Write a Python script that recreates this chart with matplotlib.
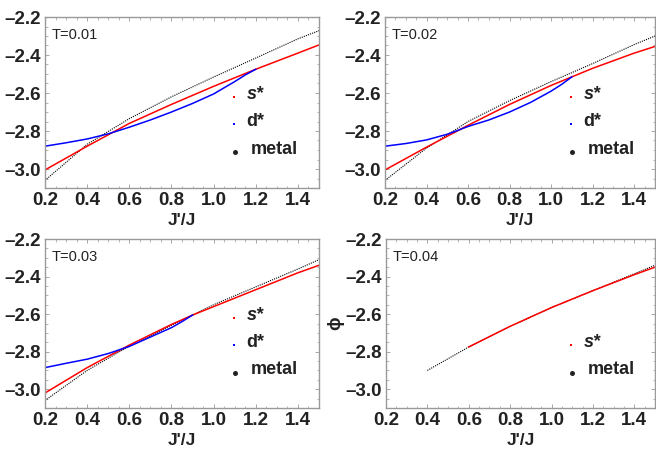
import numpy as np
import matplotlib
matplotlib.use('Agg')
import matplotlib.pyplot as plt
from matplotlib.ticker import MultipleLocator

plt.rcParams['font.family'] = ['Liberation Sans', 'DejaVu Sans']

# T = 0.01
x1_m = [0.2, 0.4, 0.6, 0.8, 1.0, 1.2, 1.4, 1.5]
y1_m = [-3.06, -2.87, -2.735, -2.62, -2.516, -2.416, -2.315, -2.272]
x1_s = [0.2, 0.4, 0.6, 0.8, 1.0, 1.2, 1.4, 1.5]
y1_s = [-3.005, -2.88, -2.76, -2.66, -2.565, -2.475, -2.39, -2.347]
x1_d = [0.2, 0.3, 0.4, 0.5, 0.6, 0.7, 0.8, 0.9, 1.0, 1.1, 1.15, 1.2]
y1_d = [-2.88, -2.862, -2.842, -2.815, -2.78, -2.742, -2.70, -2.655, -2.605, -2.54, -2.505, -2.475]

# T = 0.02
x2_m = [0.2, 0.4, 0.6, 0.8, 1.0, 1.2, 1.4, 1.5]
y2_m = [-3.06, -2.89, -2.75, -2.64, -2.54, -2.445, -2.345, -2.30]
x2_s = [0.2, 0.4, 0.6, 0.8, 1.0, 1.1, 1.2, 1.4, 1.5]
y2_s = [-3.005, -2.885, -2.77, -2.66, -2.56, -2.515, -2.47, -2.39, -2.355]
x2_d = [0.2, 0.3, 0.4, 0.5, 0.55, 0.6, 0.7, 0.8, 0.9, 1.0, 1.05, 1.1]
y2_d = [-2.88, -2.866, -2.847, -2.817, -2.797, -2.776, -2.742, -2.70, -2.65, -2.59, -2.555, -2.515]

# T = 0.03
x3_m = [0.2, 0.4, 0.6, 0.8, 0.9, 1.0, 1.2, 1.4, 1.5]
y3_m = [-3.06, -2.90, -2.77, -2.66, -2.605, -2.55, -2.455, -2.36, -2.31]
x3_s = [0.2, 0.4, 0.6, 0.8, 0.9, 1.0, 1.2, 1.4, 1.5]
y3_s = [-3.02, -2.885, -2.765, -2.655, -2.605, -2.56, -2.47, -2.38, -2.34]
x3_d = [0.2, 0.3, 0.4, 0.5, 0.6, 0.7, 0.8, 0.85, 0.9]
y3_d = [-2.885, -2.862, -2.84, -2.81, -2.772, -2.722, -2.672, -2.64, -2.605]

# T = 0.04
x4_m = [0.4, 0.6, 0.8, 1.0, 1.2, 1.4, 1.5]
y4_m = [-2.90, -2.775, -2.665, -2.565, -2.475, -2.385, -2.34]
x4_s = [0.6, 0.8, 1.0, 1.2, 1.4, 1.5]
y4_s = [-2.775, -2.665, -2.565, -2.475, -2.39, -2.35]

temps = ['T=0.01', 'T=0.02', 'T=0.03', 'T=0.04']
xticks = [0.2, 0.4, 0.6, 0.8, 1.0, 1.2, 1.4]
yticks = [-3.0, -2.8, -2.6, -2.4, -2.2]
panels = [
    (x1_m, y1_m, x1_s, y1_s, x1_d, y1_d),
    (x2_m, y2_m, x2_s, y2_s, x2_d, y2_d),
    (x3_m, y3_m, x3_s, y3_s, x3_d, y3_d),
    (x4_m, y4_m, x4_s, y4_s, None, None),
]

fig = plt.figure(figsize=(6.56, 4.53), dpi=100)
W, H = 656, 453
boxes = [(45, 17, 319, 188), (385, 17, 655, 188),
         (45, 239, 319, 408), (386, 239, 655, 408)]

frame_c = '#999999'
for k, (bx, pd) in enumerate(zip(boxes, panels)):
    l, t, r, b = bx
    ax = fig.add_axes([l / W, 1 - b / H, (r - l) / W, (b - t) / H])
    xm, ym, xs, ys, xd, yd = pd
    ax.plot(xm, ym, color='black', ls=(0, (1, 1)), lw=0.8)
    ax.plot(xs, ys, color='red', lw=1.1)
    if xd is not None:
        ax.plot(xd, yd, color='blue', lw=1.1)
    ax.set_xlim(0.2, 1.5)
    ax.set_ylim(-3.1, -2.2)
    ax.xaxis.set_minor_locator(MultipleLocator(0.05))
    ax.yaxis.set_minor_locator(MultipleLocator(0.05))
    ax.set_xticks(xticks)
    ax.set_xticklabels(['%.1f' % v for v in xticks])
    ax.set_yticks(yticks)
    ax.set_yticklabels(['\u2013%.1f' % abs(v) for v in yticks])
    ax.tick_params(which='both', direction='in', top=True, right=True,
                   color=frame_c, labelsize=13.5, pad=3)
    ax.tick_params(which='major', length=3, width=0.6)
    ax.tick_params(which='minor', length=1.8, width=0.5)
    for lab in ax.get_xticklabels() + ax.get_yticklabels():
        lab.set_fontweight('bold')
        lab.set_color('#222222')
    for s in ax.spines.values():
        s.set_color(frame_c)
        s.set_linewidth(1.0)
    ax.set_xlabel("J'/J", fontsize=12.5, fontweight='bold', labelpad=3,
                  color='#222222')
    ax.text(0.025, 0.935, temps[k], transform=ax.transAxes, fontsize=10.5,
            ha='left', va='top', color='#222222')

    # legend
    if xd is not None:
        entries = [('red', 's*'), ('blue', 'd*'), ('#222222', 'metal')]
        ys_leg = [0.53, 0.372, 0.21]
    else:
        entries = [('red', 's*'), ('#222222', 'metal')]
        ys_leg = [0.372, 0.21]
    for (c, name), yy in zip(entries, ys_leg):
        if name == 'metal':
            ax.plot([0.692], [yy], marker='o', ms=3.6, mew=0, color=c,
                    transform=ax.transAxes, ls='none', clip_on=False)
            tx = 0.75
        else:
            ax.plot([0.688], [yy], marker='s', ms=2.0, mew=0, color=c,
                    transform=ax.transAxes, ls='none', clip_on=False)
            tx = 0.735
        ax.text(tx, yy + 0.015, name, transform=ax.transAxes, fontsize=13,
                fontweight='bold', style='italic' if name == 's*' else 'normal',
                ha='left', va='center', color='#222222')

fig.text(336 / W, 1 - 323 / H, '\u03d5', rotation=90, fontsize=13,
         fontweight='bold', ha='center', va='center', color='#222222')

fig.savefig('out.png', dpi=100)
